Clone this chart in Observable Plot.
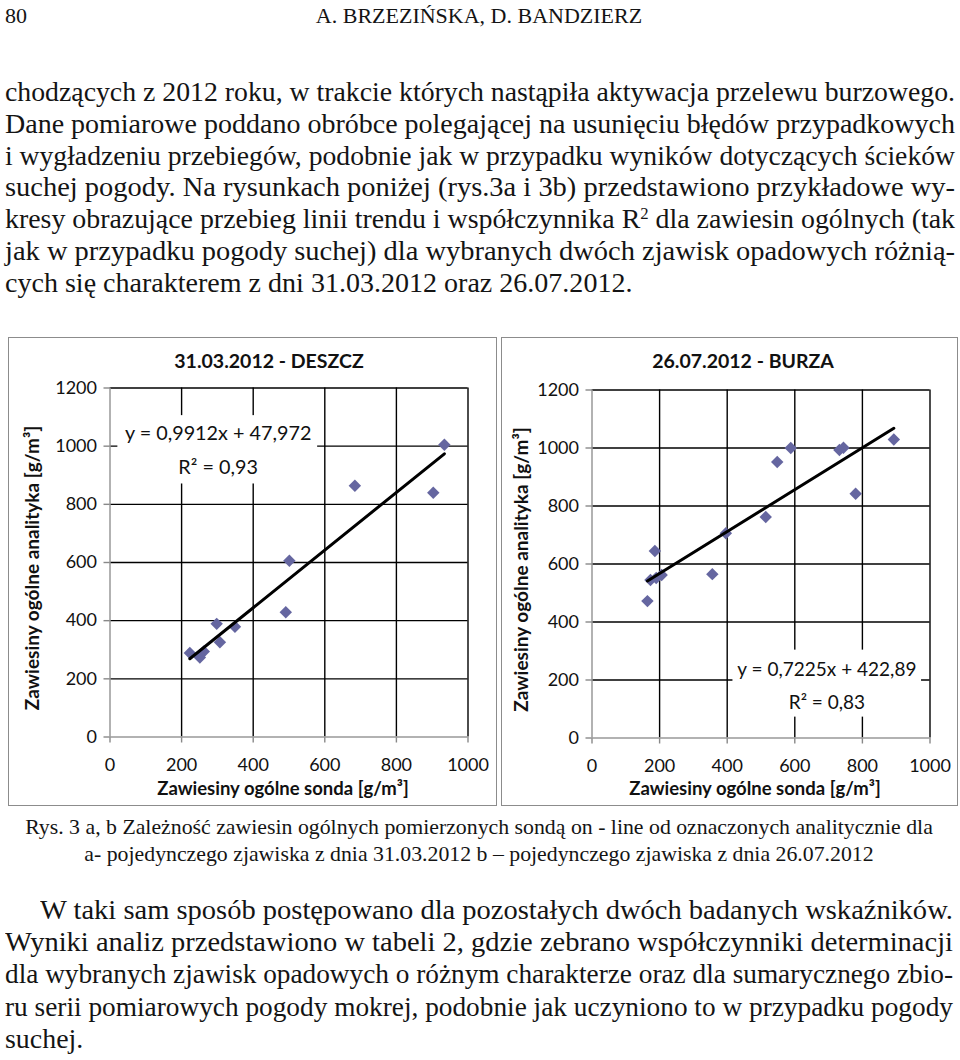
<!DOCTYPE html>
<html><head><meta charset="utf-8">
<script src="https://cdn.jsdelivr.net/npm/d3@7"></script>
<script src="https://cdn.jsdelivr.net/npm/@observablehq/plot@0.6"></script>
<style>
html,body{margin:0;padding:0;background:#fff;}
body{width:960px;height:1060px;position:relative;overflow:hidden;font-family:"Liberation Serif","Times New Roman",serif;color:#141414;}
.ln{position:absolute;white-space:nowrap;transform-origin:0 50%;}
.ln sup{font-size:0.6em;line-height:0;vertical-align:0.55em;}
.box{position:absolute;border:1.5px solid #8c8c8c;box-sizing:border-box;background:#fff;}
.box svg{display:block;}
</style></head><body>
<script>
// ---------- data ----------
const xTicks = [0, 200, 400, 600, 800, 1000];
const yTicks = [0, 200, 400, 600, 800, 1000, 1200];

// 31.03.2012 - DESZCZ
const sondaA     = [223, 251, 262, 298, 307, 349, 491, 501, 684, 903, 934];
const analitykaA = [289, 273, 294, 389, 326, 379, 429, 606, 864, 840, 1005];
const slopeA = 0.9912, interceptA = 47.972;
const eqA = "y = 0,9912x + 47,972\nR² = 0,93";
const titleA = "31.03.2012 - DESZCZ";

// 26.07.2012 - BURZA
const sondaB     = [164, 173, 190, 206, 186, 356, 396, 514, 548, 588, 732, 744, 780, 893];
const analitykaB = [472, 545, 552, 562, 645, 565, 706, 762, 952, 1000, 993, 1001, 842, 1029];
const slopeB = 0.7225, interceptB = 422.89;
const eqB = "y = 0,7225x + 422,89\nR² = 0,83";
const titleB = "26.07.2012 - BURZA";

const xLabel = "Zawiesiny ogólne sonda [g/m³]";
const yLabel = "Zawiesiny ogólne analityka [g/m³]";

// ---------- text of the page ----------
const headerPage = "80";
const headerAuthors = "A. BRZEZIŃSKA, D. BANDZIERZ";
const para1 = [
  "chodzących z 2012 roku, w trakcie których nastąpiła aktywacja przelewu burzowego.",
  "Dane pomiarowe poddano obróbce polegającej na usunięciu błędów przypadkowych",
  "i wygładzeniu przebiegów, podobnie jak w przypadku wyników dotyczących ścieków",
  "suchej pogody. Na rysunkach poniżej (rys.3a i 3b) przedstawiono przykładowe wy-",
  "kresy obrazujące przebieg linii trendu i współczynnika R<sup>2</sup> dla zawiesin ogólnych (tak",
  "jak w przypadku pogody suchej) dla wybranych dwóch zjawisk opadowych różnią-",
  "cych się charakterem z dni 31.03.2012 oraz 26.07.2012."
];
const caption = [
  "Rys. 3 a, b Zależność zawiesin ogólnych pomierzonych sondą on - line od oznaczonych analitycznie dla",
  "a- pojedynczego zjawiska z dnia 31.03.2012 b – pojedynczego zjawiska z dnia 26.07.2012"
];
const para2 = [
  "W taki sam sposób postępowano dla pozostałych dwóch badanych wskaźników.",
  "Wyniki analiz przedstawiono w tabeli 2, gdzie zebrano współczynniki determinacji",
  "dla wybranych zjawisk opadowych o różnym charakterze oraz dla sumarycznego zbio-",
  "ru serii pomiarowych pogody mokrej, podobnie jak uczyniono to w przypadku pogody",
  "suchej."
];

// ---------- helpers ----------
function addLine(html, o) {
  const size = o.size, lh = Math.round(size * 1.2);
  const d = document.createElement("div");
  d.className = "ln";
  d.style.fontSize = size + "px";
  d.style.lineHeight = lh + "px";
  const base = (lh - 1.107 * size) / 2 + 0.891 * size;
  d.style.top = (o.baseline - base) + "px";
  d.style.left = o.left + "px";
  const s = document.createElement("span");
  s.innerHTML = html;
  d.appendChild(s);
  document.body.appendChild(d);
  const w = s.getBoundingClientRect().width;
  if (o.align === "center") d.style.left = (o.center - w / 2) + "px";
  return {d, w};
}

// lines of a paragraph are stretched horizontally to the column width (scan-like)
function paragraph(lines, o) {
  const items = lines.map((t, i) => addLine(t, {left: o.lefts[i], baseline: o.baselines[i], size: o.size}));
  const scales = items.map((it, i) => o.widths[i] / it.w);
  const avg = d3.mean(scales.slice(0, -1));
  items.forEach((it, i) => {
    const k = i < items.length - 1 ? scales[i] : avg;
    it.d.style.transform = `scaleX(${k})`;
  });
}

const bodySize = 26.5;
addLine(headerPage, {left: 5, baseline: 23, size: 22});
addLine(headerAuthors, {center: 479, baseline: 23, size: 22, align: "center", left: 0});

paragraph(para1, {
  size: bodySize,
  lefts: para1.map(() => 5),
  widths: para1.map(() => 950),
  baselines: [101, 132.8, 164.6, 196.4, 228.2, 260, 291.8]
});

const bc = [834, 861];
caption.forEach((t, i) => addLine(t, {center: 479, left: 0, baseline: bc[i], size: 21.8, align: "center"}));

paragraph(para2, {
  size: bodySize,
  lefts: [40, 5, 5, 5, 5],
  widths: [913, 948, 948, 948, 948],
  baselines: [919, 951, 983, 1016, 1048]
});

// ---------- charts ----------
const markerColor = "#6566a0";
const gridStyle = {stroke: "#000", strokeOpacity: 1, strokeWidth: 1.4};
const fmt = d => String(d);

function chart(o) {
  const pts = o.xs.map((x, i) => ({x, y: o.ys[i]}));
  const ext = d3.extent(o.xs);
  const trend = ext.map(x => ({x, y: o.slope * x + o.intercept}));
  return Plot.plot({
    width: o.w, height: o.h,
    marginLeft: o.ml, marginRight: o.mr, marginTop: o.mt, marginBottom: o.mb,
    style: {fontFamily: "Lato, 'Open Sans', sans-serif", fontSize: "18px", color: "#111", background: "#fff"},
    x: {domain: [0, 1000]},
    y: {domain: [0, 1200]},
    marks: [
      Plot.gridX(xTicks.slice(1), gridStyle),
      Plot.gridY(yTicks.slice(1), gridStyle),
      Plot.axisX(xTicks, {tickSize: 6, tickPadding: 15, tickFormat: fmt, label: null, stroke: "#888", strokeWidth: 1.4, fontSize: 18}),
      Plot.axisY(yTicks, {tickSize: 6, tickPadding: 7, tickFormat: fmt, label: null, stroke: "#888", strokeWidth: 1.4, fontSize: 18}),
      Plot.ruleX([0], {stroke: "#999", strokeWidth: 1.5}),
      Plot.ruleY([0], {stroke: "#999", strokeWidth: 1.5}),
      Plot.rect([o.eq], {x1: o.box[0], x2: o.box[1], y1: o.box[2], y2: o.box[3], fill: "#fff"}),
      Plot.text([o.eq], {x: o.eqPos[0], y: o.eqPos[1], fontSize: o.eqSize, lineHeight: 1.72, fill: "#111"}),
      Plot.dot(pts, {x: "x", y: "y", symbol: "diamond2", r: 5.6, fill: markerColor, stroke: null}),
      Plot.line(trend, {x: "x", y: "y", stroke: "#000", strokeWidth: 3}),
      Plot.text([o.title], {frameAnchor: "top", lineAnchor: "middle", textAnchor: "middle", dx: o.tdx, dy: o.tdy, fontSize: 19.5, fontWeight: "bold", fill: "#111"}),
      Plot.text([xLabel], {frameAnchor: "bottom", lineAnchor: "middle", textAnchor: "middle", dx: -6, dy: o.xdy, fontSize: 18.5, fontWeight: "bold", fill: "#111"}),
      Plot.text([yLabel], {frameAnchor: "left", lineAnchor: "middle", textAnchor: "middle", rotate: -90, dx: o.ydx, dy: 5.5, fontSize: 19, fontWeight: "bold", fill: "#111"})
    ]
  });
}

function place(svg, left, top, w, h) {
  const d = document.createElement("div");
  d.className = "box";
  d.style.left = left + "px"; d.style.top = top + "px";
  d.style.width = w + "px"; d.style.height = h + "px";
  d.appendChild(svg);
  document.body.appendChild(d);
}

place(chart({
  xs: sondaA, ys: analitykaA, slope: slopeA, intercept: interceptA, eq: eqA, title: titleA, eqSize: 19.8,
  w: 486, h: 466, ml: 100.5, mr: 27.5, mt: 49.5, mb: 67.5,
  box: [22, 580, 870, 1105], eqPos: [302, 1000], tdx: -20, tdy: -26, xdy: 52, ydx: -77.5
}), 8, 337, 489, 469);

place(chart({
  xs: sondaB, ys: analitykaB, slope: slopeB, intercept: interceptB, eq: eqB, title: titleB, eqSize: 19,
  w: 454, h: 466, ml: 89.5, mr: 26.5, mt: 51.5, mb: 66.5,
  box: [417, 975, 72, 303], eqPos: [695, 192], tdx: -18, tdy: -28, xdy: 51, ydx: -70
}), 501, 337, 457, 469);
</script>
</body></html>
